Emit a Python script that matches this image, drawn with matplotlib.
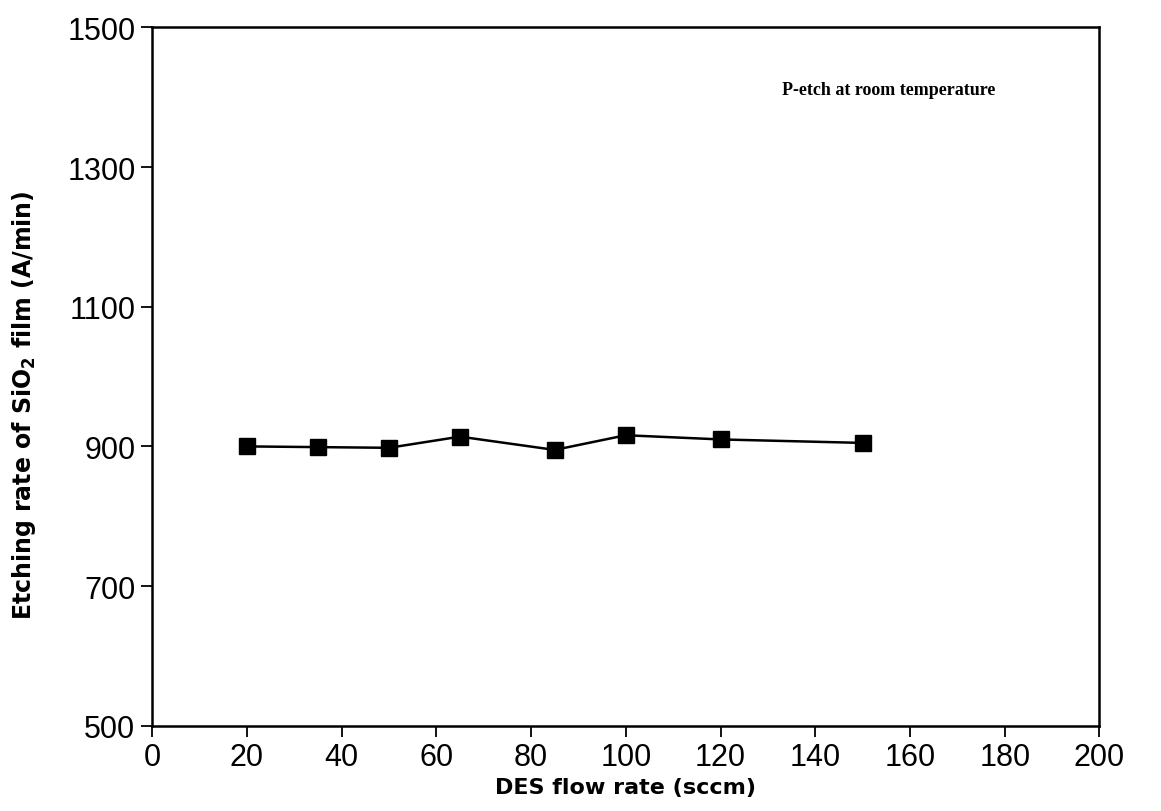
import numpy as np
import matplotlib.pyplot as plt

# DES flow rate (sccm) vs SiO2 etch rate (A/min), P-etch at room temperature
flow_rate = [20, 35, 50, 65, 85, 100, 120, 150]
etch_rate = [900, 899, 898, 914, 895, 916, 910, 905]

x_ticks = list(range(0, 201, 20))
y_ticks = [500, 700, 900, 1100, 1300, 1500]

plt.rcParams['font.family'] = ['Liberation Sans', 'DejaVu Sans']

fig = plt.figure(figsize=(11.61, 8.12), dpi=100)
ax = fig.add_axes([0.131, 0.105, 0.816, 0.86])

ax.plot(flow_rate, etch_rate, color='black', lw=1.8, marker='s',
        markersize=11.5, markerfacecolor='black', markeredgecolor='black')

ax.set_xlim(0, 200)
ax.set_ylim(500, 1500)
ax.set_xticks(x_ticks)
ax.set_yticks(y_ticks)
ax.tick_params(direction='out', length=8, width=1.3, labelsize=22, pad=4)
for s in ax.spines.values():
    s.set_linewidth(1.8)

ax.set_xlabel('DES flow rate (sccm)', fontsize=16, fontweight='bold',
              family='DejaVu Sans', labelpad=3)
ax.set_ylabel(r'Etching rate of SiO$_\mathbf{2}$ film (A/min)', fontsize=17,
              fontweight='bold', family='DejaVu Sans')
ax.yaxis.set_label_coords(-0.12, 0.46)

ax.text(0.665, 0.905, 'P-etch at room temperature', transform=ax.transAxes,
        fontsize=13, fontweight='bold', family='Liberation Serif')

plt.savefig('out.png', dpi=100)
